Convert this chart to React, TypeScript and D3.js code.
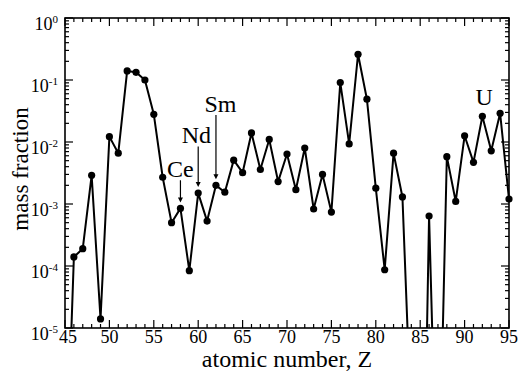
import React from "react";
import * as d3 from "d3";

const Z = [45,46,47,48,49,50,51,52,53,54,55,56,57,58,59,60,61,62,63,64,65,66,67,68,69,70,71,72,73,74,75,76,77,78,79,80,81,82,83,84,85,86,87,88,89,90,91,92,93,94,95];
const massFraction = [1e-8,1.4e-4,1.9e-4,2.9e-3,1.4e-5,0.0122,0.0066,0.14,0.133,0.10,0.028,0.0027,5.0e-4,8.5e-4,8.4e-5,1.5e-3,5.3e-4,2.0e-3,1.55e-3,5.1e-3,3.2e-3,0.014,3.6e-3,0.011,2.3e-3,6.4e-3,1.7e-3,8.0e-3,8.3e-4,3.0e-3,7.4e-4,0.091,9.3e-3,0.26,0.049,1.8e-3,8.7e-5,6.6e-3,1.3e-3,2.5e-7,1e-11,6.4e-4,4e-9,5.8e-3,1.1e-3,0.0126,4.7e-3,0.026,7.2e-3,0.029,1.2e-3];

const xTicks = [45,50,55,60,65,70,75,80,85,90,95];
const yExponents = [0,-1,-2,-3,-4,-5];

// arrow annotations
const annText = ["Ce","Nd","Sm"];
const annZ = [58,60,62];
const annTextZ = [58,59.8,62.5];
const annTextValue = [2.7e-3,9.5e-3,0.0305];
// plain label
const uText = "U";
const uZ = 92.2;
const uValue = 0.0395;

const W = 520, H = 374;
const L = 65, R = 509, T = 18, B = 328;
const FONT = "'Liberation Serif', 'Times New Roman', serif";

export default function App() {
  const x = d3.scaleLinear().domain([45, 95]).range([L, R]);
  const y = d3.scaleLog().domain([1e-5, 1]).range([B, T]);
  const pts = Z.map((z, i) => [z, massFraction[i]] as [number, number]);
  const line = d3.line<[number, number]>().x(d => x(d[0])).y(d => y(d[1]));

  const minorX = d3.range(45, 96, 1).filter(v => v % 5 !== 0);
  const minorY: number[] = [];
  for (let e = -5; e < 0; e++) for (let m = 2; m <= 9; m++) minorY.push(m * Math.pow(10, e));

  const maj = 8, mnr = 4;
  return (
    <svg width={W} height={H} style={{ display: "block", background: "#fff" }} fontFamily={FONT}>
      <style>{`body{margin:0}`}</style>
      <defs>
        <clipPath id="plotclip">
          <rect x={L - 6} y={T - 6} width={R - L + 12} height={B - T + 6} />
        </clipPath>
      </defs>
      {/* ticks */}
      <g stroke="#000" strokeWidth={1.2}>
        {xTicks.map(t => (
          <g key={"xt" + t}>
            <line x1={x(t)} x2={x(t)} y1={B} y2={B - maj} />
            <line x1={x(t)} x2={x(t)} y1={T} y2={T + maj} />
          </g>
        ))}
        {minorX.map(t => (
          <g key={"xm" + t}>
            <line x1={x(t)} x2={x(t)} y1={B} y2={B - mnr} />
            <line x1={x(t)} x2={x(t)} y1={T} y2={T + mnr} />
          </g>
        ))}
        {yExponents.map(e => (
          <g key={"yt" + e}>
            <line x1={L} x2={L + maj} y1={y(Math.pow(10, e))} y2={y(Math.pow(10, e))} />
            <line x1={R} x2={R - maj} y1={y(Math.pow(10, e))} y2={y(Math.pow(10, e))} />
          </g>
        ))}
        {minorY.map((v, i) => (
          <g key={"ym" + i}>
            <line x1={L} x2={L + mnr} y1={y(v)} y2={y(v)} />
            <line x1={R} x2={R - mnr} y1={y(v)} y2={y(v)} />
          </g>
        ))}
      </g>
      {/* data */}
      <g clipPath="url(#plotclip)">
        <path d={line(pts) || ""} fill="none" stroke="#000" strokeWidth={2} strokeLinejoin="round" />
        {pts.filter(p => p[1] >= 1e-5).map(p => (
          <circle key={"p" + p[0]} cx={x(p[0])} cy={y(p[1])} r={3.6} fill="#000" />
        ))}
      </g>
      {/* frame */}
      <rect x={L} y={T} width={R - L} height={B - T} fill="none" stroke="#000" strokeWidth={1.6} />
      {/* tick labels */}
      {xTicks.map((t, i) => (
        <text key={"xl" + t} x={x(t) + (i === 0 ? 3 : 0)} y={B + 15} fontSize={18} textAnchor="middle">{t}</text>
      ))}
      {yExponents.map(e => (
        <text key={"yl" + e} x={58} y={y(Math.pow(10, e)) + 12} fontSize={18} textAnchor="end">
          10<tspan fontSize={11} dy={-7.5}>{e}</tspan>
        </text>
      ))}
      {/* axis titles */}
      <text x={(L + R) / 2} y={367} fontSize={24} textAnchor="middle">atomic number, Z</text>
      <text transform={`translate(28,${(T + B) / 2 - 4}) rotate(-90)`} fontSize={23} textAnchor="middle">mass fraction</text>
      {/* annotations */}
      {annText.map((s, i) => {
        const ax = x(annZ[i]);
        const py = y(massFraction[Z.indexOf(annZ[i])]);
        const ty = y(annTextValue[i]);
        const tip = py - 6;
        return (
          <g key={"an" + s}>
            <text x={x(annTextZ[i])} y={ty} fontSize={24} textAnchor="middle">{s}</text>
            <line x1={ax} x2={ax} y1={ty + 3} y2={tip - 4} stroke="#000" strokeWidth={1.2} />
            <path d={`M${ax - 2.5},${tip - 5} L${ax + 2.5},${tip - 5} L${ax},${tip} Z`} fill="#000" />
          </g>
        );
      })}
      <text x={x(uZ)} y={y(uValue)} fontSize={24} textAnchor="middle">{uText}</text>
    </svg>
  );
}
